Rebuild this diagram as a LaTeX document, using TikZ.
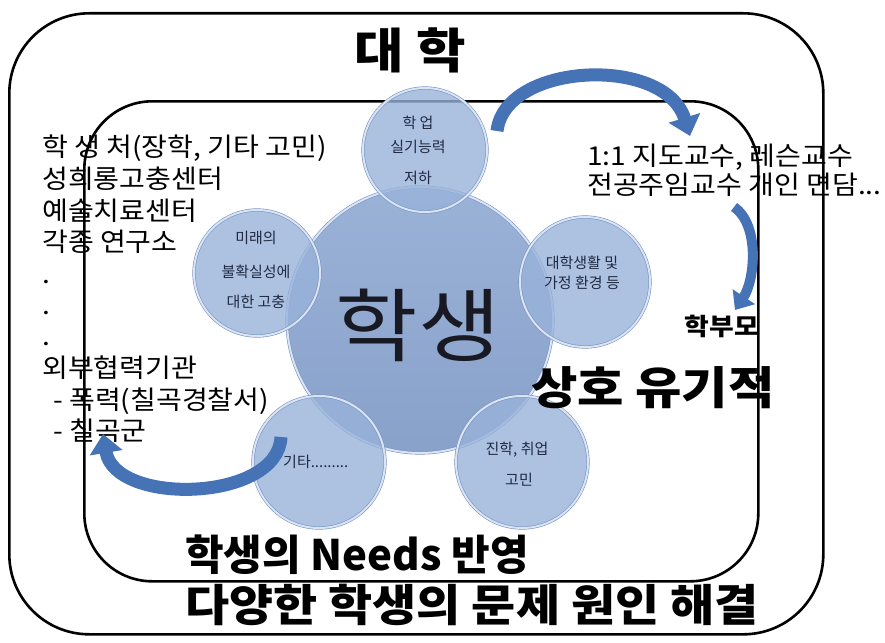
\documentclass[tikz,border=0pt]{standalone}
\usepackage{fontspec}
\newfontfamily\kr{Noto Sans CJK KR}
\newfontfamily\krA[FakeStretch=1.08]{Noto Sans CJK KR}
\newfontfamily\krB[FakeStretch=1.12]{Noto Sans CJK KR}
\newfontfamily\krC[FakeStretch=1.09]{Noto Sans CJK KR}
\usetikzlibrary{arrows.meta}
\definecolor{bub}{RGB}{152,178,218}
\definecolor{bubrim}{RGB}{218,228,243}
\definecolor{bubedge}{RGB}{120,148,196}
\definecolor{core}{RGB}{142,168,210}
\definecolor{arr}{RGB}{70,114,182}
\definecolor{ctext}{RGB}{32,42,66}
\begin{document}
\begin{tikzpicture}[x=1pt,y=-1pt,
  frame/.style={draw=black, line width=2.6, inner sep=0, anchor=north west},
  bubble/.style={circle, draw=bubedge, double=bubrim, double distance=2, line width=0.6, fill=bub, fill opacity=0.8, inner sep=0},
  ctxt/.style={font=\kr\fontsize{15}{18}\selectfont, text=ctext, inner sep=0},
  listtxt/.style={font=\krA\fontsize{26}{30}\selectfont, anchor=base west, inner sep=0},
  curvedarrow/.style={draw=arr, line width=13, -{Triangle[width=32,length=19]}}]
\useasboundingbox (0,0) rectangle (885,642);
% frames
\node[frame, rounded corners=80, minimum width=814, minimum height=621] (univ) at (8,12) {};
\node[frame, rounded corners=68, minimum width=674, minimum height=480] (inner) at (83,100) {};
% circles
\node[circle, draw=bubedge, double=bubrim, double distance=2, line width=0.6, top color=core!88!white, bottom color=core!96!black, minimum size=266, inner sep=0] (core) at (420,320) {};
\node[bubble, minimum size=124] (ctop) at (425,150) {};
\node[bubble, minimum size=130] (cright) at (585,282) {};
\node[bubble, minimum size=126] (cleft) at (257,273) {};
\node[bubble, minimum size=132] (cbl) at (319,462) {};
\node[bubble, minimum size=132] (cbr) at (522,462) {};
% circle texts
\node[ctxt] (t1a) at (418,123) {학 업};
\node[ctxt] (t1b) at (418,147) {실기능력};
\node[ctxt] (t1c) at (418,178) {저하};
\node[ctxt] (t2a) at (582,263) {대학생활 및};
\node[ctxt] (t2b) at (582,283) {가정 환경 등};
\node[ctxt] (t3a) at (256,238) {미래의};
\node[ctxt] (t3b) at (256,272) {불확실성에};
\node[ctxt] (t3c) at (256,302) {대한 고충};
\node[ctxt, anchor=west] (t4) at (283,462) {기타.........};
\node[ctxt] (t5a) at (517,450) {진학, 취업};
\node[ctxt] (t5b) at (519,480) {고민};
\node[font=\krB\fontsize{80}{90}\selectfont, text={rgb,255:red,25;green,25;blue,35}, inner sep=0] (stu) at (418,325) {학생};
% titles
\node[font=\krB\bfseries\fontsize{48}{52}\selectfont, inner sep=0] (title) at (410,50) {대 학};
\node[font=\krB\bfseries\fontsize{45}{50}\selectfont, inner sep=0] (mutual) at (653,388) {상호 유기적};
\node[font=\krB\bfseries\fontsize{24}{26}\selectfont, inner sep=0] (parent) at (722,326) {학부모};
\node[font=\kr\bfseries\fontsize{42}{50}\selectfont, inner sep=0, anchor=west] (needs) at (185,555) {학생의 Needs 반영};
\node[font=\krC\bfseries\fontsize{44}{50}\selectfont, inner sep=0, anchor=west] (solve) at (185,605) {다양한 학생의 문제 원인 해결};
% left list
\node[listtxt] (l1) at (42,156) {학 생 처(장학, 기타 고민)};
\node[listtxt] (l2) at (42,188) {성희롱고충센터};
\node[listtxt] (l3) at (42,220) {예술치료센터};
\node[listtxt] (l4) at (42,251.5) {각종 연구소};
\node[listtxt] (l5) at (42,283) {.};
\node[listtxt] (l6) at (42,314) {.};
\node[listtxt] (l7) at (42,345) {.};
\node[listtxt] (l8) at (42,377) {외부협력기관};
\node[listtxt] (l9) at (53,409) {- 폭력(칠곡경찰서)};
\node[listtxt] (l10) at (53,440) {- 칠곡군};
% right text
\node[listtxt] (r1) at (587,165) {1:1 지도교수, 레슨교수};
\node[listtxt] (r2) at (587,194) {전공주임교수 개인 면담...};
% arrows
\coordinate (a1s) at (497,131);
\coordinate (a1e) at (690,136);
\coordinate (a2s) at (734,207);
\coordinate (a2e) at (735,310);
\coordinate (a3s) at (281,437);
\coordinate (a3e) at (103,434);
\draw[curvedarrow] (a1s) .. controls (505,62) and (665,55) .. (a1e);
\draw[curvedarrow, line width=10, -{Triangle[width=26,length=16]}] (a2s) .. controls (760,225) and (755,280) .. (a2e);
\draw[curvedarrow] (a3s) .. controls (278,502) and (115,506) .. (a3e);
\end{tikzpicture}
\end{document}
